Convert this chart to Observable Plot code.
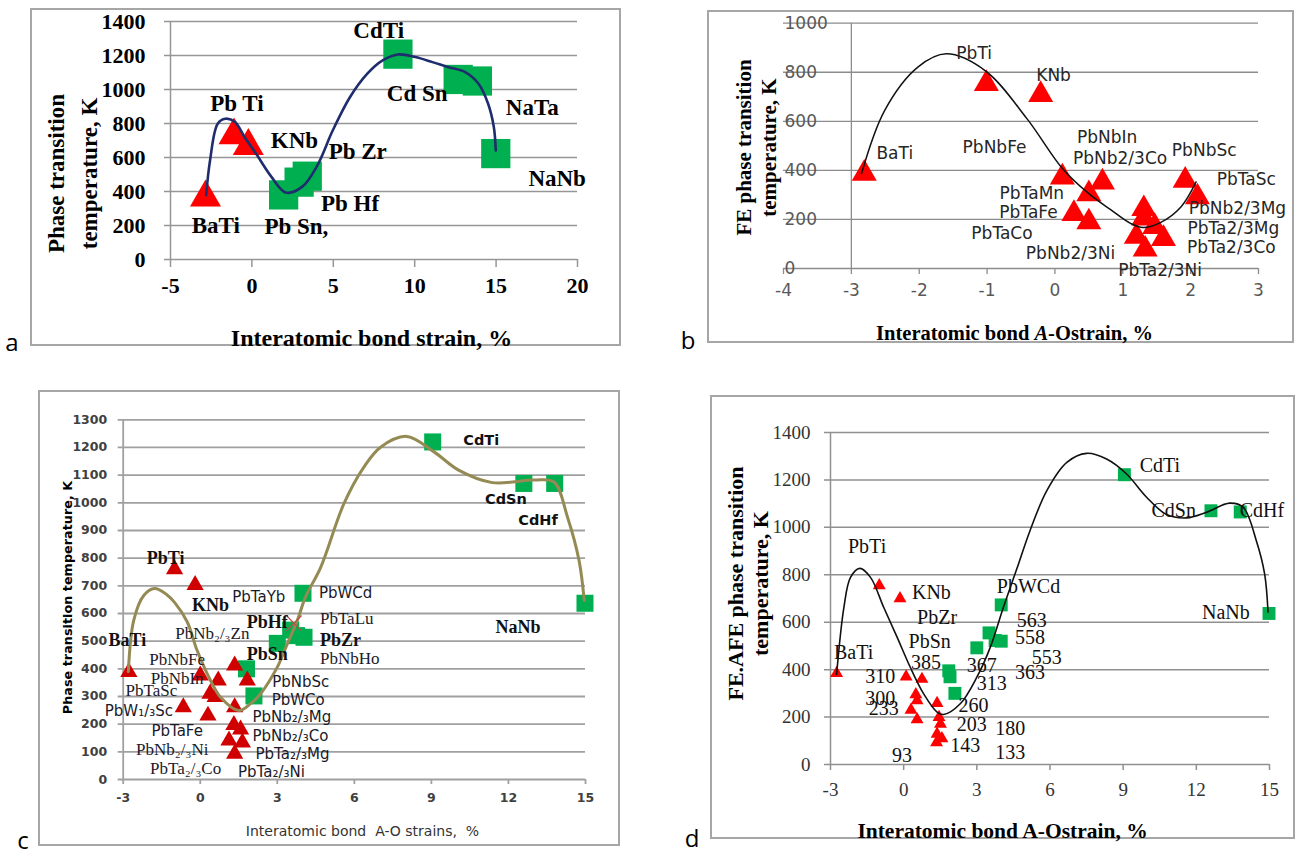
<!DOCTYPE html>
<html><head><meta charset="utf-8">
<script src="https://cdn.jsdelivr.net/npm/d3@7"></script>
<script src="https://cdn.jsdelivr.net/npm/@observablehq/plot@0.6"></script>
<style>
body{margin:0;background:#fff;width:1305px;height:856px;position:relative;overflow:hidden}
.box{position:absolute;border:2px solid #a6a6a6;box-sizing:border-box}
.letter{position:absolute;font-family:"Open Sans",sans-serif;font-size:24px;color:#000;line-height:1;transform:translate(-50%,-50%)}
.panel{position:absolute}
</style></head><body>
<script>
// ---------- Panel a ----------
const aXTicks = [-5, 0, 5, 10, 15, 20];
const aYTicks = [0, 200, 400, 600, 800, 1000, 1200, 1400];
const aTriX = [-2.85, -1.1, -0.22];
const aTriY = [365, 730, 668];
const aSqX = [1.95, 2.9, 3.4, 8.97, 12.67, 13.85, 14.98];
const aSqY = [380, 455, 490, 1208, 1059, 1050, 623];
const aCurveX = [-2.81, -2.57, -2.1, -1.63, -1.04, -0.45, 0.25, 1.2, 2.07, 3.08, 4.02, 4.97, 6.03, 7.09, 8.03, 8.97, 10.03, 11.09, 12.04, 13.1, 13.92, 14.51, 14.86, 14.98];
const aCurveY = [378, 583, 799, 828, 809, 721, 623, 486, 394, 427, 554, 760, 956, 1093, 1171, 1206, 1191, 1161, 1132, 1102, 1034, 916, 779, 642];
const aLabText = ["Pb Ti", "KNb", "BaTi", "Pb Sn,", "Pb Zr", "Pb Hf", "CdTi", "Cd Sn", "NaTa", "NaNb"];
const aLabX = [-0.92, 2.61, -2.22, 2.73, 6.5, 6.03, 7.79, 10.15, 17.22, 18.75];
const aLabY = [916, 701, 202, 192, 632, 329, 1347, 975, 893, 476];

// ---------- Panel b ----------
const bXTicks = [-4, -3, -2, -1, 0, 1, 2, 3];
const bYTicks = [0, 200, 400, 600, 800, 1000];
const bTriX = [-2.81, -1.01, -0.21, 0.11, 0.5, 0.7, 0.28, 0.5, 1.31, 1.31, 1.47, 1.2, 1.6, 1.33, 1.92, 2.1];
const bTriY = [387, 753, 708, 372, 304, 352, 223, 189, 243, 205, 170, 130, 121, 78, 359, 291];
const bCurveX = [-2.85, -2.51, -2.02, -1.6, -1.02, -0.41, 0.11, 0.5, 0.82, 1.12, 1.3, 1.56, 1.86, 2.08];
const bCurveY = [387, 644, 821, 875, 805, 610, 408, 305, 240, 183, 167, 188, 252, 353];
const bLabText = ["PbTi", "KNb", "BaTi", "PbNbFe", "PbNbIn", "PbNb2/3Co", "PbNbSc", "PbTaMn", "PbTaFe", "PbTaCo", "PbNb2/3Ni", "PbTa2/3Ni", "PbTaSc", "PbNb2/3Mg", "PbTa2/3Mg", "PbTa2/3Co"];
const bLabX = [-1.19, -0.02, -2.36, -0.89, 0.77, 0.96, 2.2, -0.34, -0.39, -0.78, 0.23, 1.55, 2.82, 2.69, 2.63, 2.6];
const bLabY = [875, 787, 468, 495, 535, 450, 482, 304, 230, 141, 60, -10, 362, 244, 163, 85];

// ---------- Panel c ----------
const cXTicks = [-3, 0, 3, 6, 9, 12, 15];
const cYTicks = [0, 100, 200, 300, 400, 500, 600, 700, 800, 900, 1000, 1100, 1200, 1300];
const cTriX = [-2.78, -1.0, -0.2, 0.0, 0.7, 0.38, 0.58, -0.66, 0.3, 1.34, 1.83, 1.34, 1.31, 1.57, 1.12, 1.64, 1.34];
const cTriY = [388, 760, 703, 376, 358, 310, 298, 261, 231, 412, 358, 261, 197, 181, 141, 134, 93];
const cSqX = [1.8, 2.09, 3.0, 3.52, 3.75, 4.04, 4.0, 9.05, 12.6, 13.8, 14.98];
const cSqY = [400, 302, 492, 540, 520, 514, 673, 1220, 1070, 1070, 637];
const cCrossX = [3.65];
const cCrossY = [565];
const cCurveX = [-2.8, -2.59, -2.2, -1.78, -1.3, -1.0, -0.51, -0.12, 0.4, 0.79, 1.5, 1.96, 2.35, 3.0, 3.39, 3.78, 4.1, 4.69, 5.59, 6.37, 7.02, 8.04, 9.09, 10.06, 11.37, 12.99, 13.77, 14.3, 14.75, 14.95];
const cCurveY = [390, 575, 665, 690, 668, 640, 570, 466, 358, 297, 249, 274, 310, 406, 490, 575, 660, 767, 996, 1129, 1201, 1240, 1185, 1118, 1073, 1082, 1075, 948, 791, 647];
const cLabText = ["PbTi", "KNb", "BaTi", "PbHf", "PbSn", "PbZr", "NaNb", "CdTi", "CdSn", "CdHf",
  "PbNb₂/₃Zn", "PbNbFe", "PbNbIn", "PbTaSc", "PbNb₂/₃Ni", "PbTa₂/₃Co", "PbTaLu", "PbNbHo",
  "PbTaYb", "PbW₁/₃Sc", "PbTaFe", "PbNbSc", "PbWCo", "PbNb₂/₃Mg", "PbNb₂/₃Co", "PbTa₂/₃Mg", "PbTa₂/₃Ni", "PbWCd"];
const cLabX = [-1.35, 0.4, -3.57, 2.61, 2.61, 4.66, 12.37, 10.24, 11.9, 13.15,
  0.47, -0.9, -0.9, -1.9, -1.09, -0.57, 4.66, 4.66,
  2.28, -2.39, -0.9, 2.8, 2.78, 2.03, 2.03, 2.15, 1.47, 4.62];
const cLabY = [798, 631, 502, 568, 454, 505, 550, 1224, 1014, 936,
  527, 433, 364, 322, 107, 39, 581, 436,
  659, 247, 175, 352, 287, 224, 157, 90, 26, 673];
const cLabAnchor = ["middle", "middle", "start", "middle", "middle", "start", "middle", "start", "middle", "middle",
  "middle", "middle", "middle", "middle", "middle", "middle", "start", "start",
  "middle", "middle", "middle", "start", "start", "start", "start", "start", "start", "start"];
const cLabFont = ["bs", "bs", "bs", "bs", "bs", "bs", "bs", "bc", "bc", "bc",
  "s", "s", "s", "s", "s", "s", "s", "s",
  "ss", "ss", "ss", "ss", "ss", "ss", "ss", "ss", "ss", "ss"];

// ---------- Panel d ----------
const dXTicks = [-3, 0, 3, 6, 9, 12, 15];
const dYTicks = [0, 200, 400, 600, 800, 1000, 1200, 1400];
const dTriX = [-2.75, -1.0, -0.15, 0.1, 0.75, 0.5, 0.55, 0.3, 0.55, 1.37, 1.45, 1.51, 1.37, 1.35, 1.57];
const dTriY = [385, 755, 700, 370, 360, 295, 270, 230, 190, 258, 199, 171, 129, 93, 110];
const dSqX = [1.85, 1.9, 2.1, 3.0, 3.5, 3.75, 4.0, 4.0, 9.05, 12.6, 13.8, 14.98];
const dSqY = [395, 370, 300, 492, 555, 523, 520, 673, 1222, 1070, 1065, 637];
const dCurveX = [-2.75, -2.45, -2.18, -1.8, -1.36, -0.82, -0.27, 0.27, 0.82, 1.37, 1.64, 2.32, 3.0, 3.55, 4.09, 4.64, 5.18, 5.87, 6.69, 7.5, 8.32, 9.14, 9.96, 10.78, 11.6, 12.42, 13.37, 13.92, 14.46, 14.8, 14.94];
const dCurveY = [380, 663, 789, 827, 789, 663, 537, 410, 298, 221, 211, 256, 368, 494, 663, 825, 986, 1155, 1274, 1312, 1288, 1225, 1127, 1054, 1040, 1064, 1102, 1085, 944, 804, 642];
const dLabText = ["PbTi", "KNb", "PbZr", "PbSn", "BaTi", "385", "310", "300", "233", "93", "260", "203", "143", "367", "313", "180", "133", "PbWCd", "563", "558", "553", "363", "CdTi", "CdSn", "CdHf", "NaNb"];
const dLabX = [-1.5, 0.34, 0.55, 0.2, -2.86, 0.3, -0.34, -0.34, -0.2, -0.07, 2.25, 2.18, 1.91, 2.59, 3.0, 3.75, 3.75, 3.82, 4.64, 4.57, 5.25, 4.57, 9.68, 10.16, 13.78, 14.19];
const dLabY = [919, 726, 621, 518, 473, 431, 371, 277, 235, 38, 249, 169, 80, 417, 340, 150, 52, 750, 607, 534, 452, 389, 1260, 1071, 1071, 642];
const dLabAnchor = ["middle", "start", "start", "start", "start", "start", "end", "end", "end", "middle", "start", "start", "start", "start", "start", "start", "start", "start", "start", "start", "start", "start", "start", "start", "start", "end"];

// ---------- helpers ----------
const SERIF = "'Liberation Serif','Times New Roman',serif";
const SANS = "'DejaVu Sans',Verdana,sans-serif";
const zip = (xs, ys) => xs.map((x, i) => ({x, y: ys[i]}));

function labelMarks(texts, xs, ys, anchors, fonts, defs) {
  const data = texts.map((t, i) => ({t, x: xs[i], y: ys[i], a: anchors[i], f: fonts[i]}));
  const marks = [];
  for (const [a, sub] of d3.groups(data, d => d.a, d => d.f)) {
    for (const [f, arr] of sub) {
      const fd = defs[f];
      marks.push(Plot.text(arr, {x: "x", y: "y", text: "t", textAnchor: a, fontFamily: fd.family, fontSize: fd.size, fontWeight: fd.weight || "normal", fill: fd.fill || "#111"}));
    }
  }
  return marks;
}

function panel(cfg) {
  const [bl, bt, br, bb] = cfg.box;
  const [x0, x1] = cfg.xPx, [yT, yB] = cfg.yPx;
  const W = br - bl, H = bb - bt;
  const at = (X, Y) => ({frameAnchor: "top-left", dx: X - x0, dy: Y - yT});
  const tf = cfg.tickFont;
  const marks = [
    Plot.ruleY(cfg.yTicks, {y: d => d, stroke: cfg.grid, strokeWidth: cfg.gridW, insetLeft: -cfg.yTickLen}),
    Plot.ruleX([cfg.axisAt], {x: d => d, y1: cfg.yDomain[0], y2: cfg.yDomain[1], stroke: cfg.grid, strokeWidth: cfg.gridW}),
    Plot.axisX({ticks: cfg.xTicks, tickSize: cfg.xTickLen, tickFormat: () => "", label: null, stroke: cfg.grid, strokeWidth: cfg.gridW}),
    ...cfg.points,
    Plot.line(cfg.curve, {x: "x", y: "y", curve: "catmull-rom", stroke: cfg.curveColor, strokeWidth: cfg.curveW}),
    ...(cfg.extra || []),
    ...cfg.labels,
    Plot.text(cfg.xTicks, {x: d => d, frameAnchor: "bottom", dy: cfg.xLabDy, text: d => String(d), fontFamily: tf.family, fontSize: tf.size, fontWeight: tf.weight || "normal", fill: tf.fill}),
    Plot.text(cfg.yTicks, {y: d => d, frameAnchor: "left", dx: cfg.yLabDx, textAnchor: cfg.yLabAnchor, text: d => String(d), fontFamily: tf.family, fontSize: tf.size, fontWeight: tf.weight || "normal", fill: tf.fill}),
    Plot.text([cfg.xTitle.text], {...at(cfg.xTitle.X, cfg.xTitle.Y), text: d => d, textAnchor: "middle", fontFamily: cfg.xTitle.family, fontSize: cfg.xTitle.size, fontWeight: cfg.xTitle.weight, fill: cfg.xTitle.fill || "#000"}),
    ...cfg.yTitle.lines.map((ln, i) => Plot.text([ln], {...at(cfg.yTitle.X[i], cfg.yTitle.Y), text: d => d, rotate: -90, textAnchor: "middle", fontFamily: cfg.yTitle.family, fontSize: cfg.yTitle.size, fontWeight: cfg.yTitle.weight, fill: cfg.yTitle.fill || "#000"}))
  ];
  const svg = Plot.plot({
    width: W, height: H,
    marginLeft: x0 - bl, marginRight: br - x1, marginTop: yT - bt, marginBottom: bb - yB,
    x: {domain: cfg.xDomain, axis: null},
    y: {domain: cfg.yDomain, axis: null},
    style: {background: "transparent", overflow: "visible"},
    marks
  });
  const wrap = document.createElement("div");
  wrap.className = "panel";
  wrap.style.left = bl + "px"; wrap.style.top = bt + "px";
  wrap.appendChild(svg);
  const box = document.createElement("div");
  box.className = "box";
  Object.assign(box.style, {left: bl + "px", top: bt + "px", width: W + "px", height: H + "px"});
  document.body.appendChild(box);
  document.body.appendChild(wrap);
  const lt = document.createElement("div");
  lt.className = "letter";
  lt.textContent = cfg.letter.t;
  lt.style.left = cfg.letter.X + "px"; lt.style.top = cfg.letter.Y + "px";
  document.body.appendChild(lt);
  return svg;
}

const RED = "#ff0000", GREEN = "#00b050";

// Panel a
panel({
  box: [30, 8, 621, 346], xPx: [170, 577], yPx: [21, 259],
  xDomain: [-5, 20], yDomain: [0, 1400], xTicks: aXTicks, yTicks: aYTicks, axisAt: -5,
  grid: "#969696", gridW: 1.5, yTickLen: 6, xTickLen: 8,
  points: [
    Plot.dot(zip(aSqX, aSqY), {x: "x", y: "y", symbol: "square", r: 16.5, fill: GREEN}),
    Plot.dot(zip(aTriX, aTriY), {x: "x", y: "y", symbol: "triangle", r: 11.5, fill: RED})
  ],
  curve: zip(aCurveX, aCurveY), curveColor: "#1f2d6e", curveW: 2.6,
  labels: labelMarks(aLabText, aLabX, aLabY, aLabText.map(() => "middle"), aLabText.map(() => "bs"), {bs: {family: SERIF, size: 23, weight: "bold", fill: "#000"}}),
  tickFont: {family: SERIF, size: 22, weight: "bold", fill: "#000"},
  xLabDy: 33, yLabDx: -25, yLabAnchor: "end",
  xTitle: {text: "Interatomic bond strain, %", X: 371, Y: 328, family: SERIF, size: 24, weight: "bold"},
  yTitle: {lines: ["Phase transition", "temperature, K"], X: [47, 80], Y: 173, family: SERIF, size: 23, weight: "bold"},
  letter: {t: "a", X: 12, Y: 342}
});

// Panel b
const bSvg = panel({
  box: [707, 10, 1294, 343], xPx: [783, 1258], yPx: [22.7, 268],
  xDomain: [-4, 3], yDomain: [0, 1000], xTicks: bXTicks, yTicks: bYTicks, axisAt: -3,
  grid: "#8c8c8c", gridW: 1.3, yTickLen: 0, xTickLen: 6,
  points: [
    Plot.dot(zip(bTriX, bTriY), {x: "x", y: "y", symbol: "triangle", r: 9.3, fill: RED})
  ],
  curve: zip(bCurveX, bCurveY), curveColor: "#111", curveW: 1.5,
  labels: labelMarks(bLabText, bLabX, bLabY, bLabText.map(() => "middle"), bLabText.map(() => "s"), {s: {family: SANS, size: 17, fill: "#262626"}}),
  tickFont: {family: SANS, size: 17, fill: "#595959"},
  xLabDy: 27, yLabDx: 1, yLabAnchor: "start",
  xTitle: {text: "Interatomic bond A-Ostrain, %", X: 1014, Y: 325, family: SERIF, size: 20.5, weight: "bold"},
  yTitle: {lines: ["FE phase transition", "temperature, K"], X: [736, 761], Y: 147, family: SERIF, size: 21, weight: "bold"},
  letter: {t: "b", X: 688, Y: 340}
});
for (const t of bSvg.querySelectorAll("text")) {
  if (t.textContent === "Interatomic bond A-Ostrain, %") t.innerHTML = 'Interatomic bond <tspan font-style="italic">A</tspan>-Ostrain, %';
}

// Panel c
panel({
  box: [38, 390, 620, 846], xPx: [122.7, 585], yPx: [419.3, 779],
  xDomain: [-3, 15], yDomain: [0, 1300], xTicks: cXTicks, yTicks: cYTicks, axisAt: -3,
  grid: "#a0a0a0", gridW: 1.8, yTickLen: 5, xTickLen: 5,
  points: [
    Plot.dot(zip(cSqX, cSqY), {x: "x", y: "y", symbol: "square", r: 9.6, fill: GREEN}),
    Plot.dot(zip(cTriX, cTriY), {x: "x", y: "y", symbol: "triangle", r: 6.4, fill: "#d00000"})
  ],
  extra: [Plot.dot(zip(cCrossX, cCrossY), {x: "x", y: "y", symbol: "times", r: 7, stroke: "#c0504d", strokeWidth: 1.2})],
  curve: zip(cCurveX, cCurveY), curveColor: "#948a54", curveW: 3,
  labels: labelMarks(cLabText, cLabX, cLabY, cLabAnchor, cLabFont, {
    bs: {family: SERIF, size: 18, weight: "bold", fill: "#111"},
    bc: {family: SANS, size: 14.5, weight: "bold", fill: "#111"},
    s: {family: SERIF, size: 17, fill: "#1a1a2a"},
    ss: {family: SANS, size: 15, fill: "#1a1a2a"}
  }),
  tickFont: {family: SANS, size: 12.5, weight: "bold", fill: "#404040"},
  xLabDy: 22, yLabDx: -16, yLabAnchor: "end",
  xTitle: {text: "Interatomic bond\u00a0\u00a0A-O strains,\u00a0\u00a0%", X: 362, Y: 826, family: SANS, size: 14, weight: "normal", fill: "#333"},
  yTitle: {lines: ["Phase transition temperature, K"], X: [62], Y: 597, family: SANS, size: 12.8, weight: "bold"},
  letter: {t: "c", X: 23, Y: 840}
});

// Panel d
panel({
  box: [710, 395, 1295, 839], xPx: [830, 1269], yPx: [432, 764],
  xDomain: [-3, 15], yDomain: [0, 1400], xTicks: dXTicks, yTicks: dYTicks, axisAt: -3,
  grid: "#909090", gridW: 1.5, yTickLen: 6, xTickLen: 6,
  points: [
    Plot.dot(zip(dSqX, dSqY), {x: "x", y: "y", symbol: "square", r: 7.3, fill: GREEN}),
    Plot.dot(zip(dTriX, dTriY), {x: "x", y: "y", symbol: "triangle", r: 4.8, fill: RED})
  ],
  curve: zip(dCurveX, dCurveY), curveColor: "#111", curveW: 1.6,
  labels: labelMarks(dLabText, dLabX, dLabY, dLabAnchor, dLabText.map(() => "s"), {s: {family: SERIF, size: 20, fill: "#111"}}),
  tickFont: {family: SERIF, size: 19, fill: "#333"},
  xLabDy: 31, yLabDx: -20, yLabAnchor: "end",
  xTitle: {text: "Interatomic bond A-Ostrain, %", X: 1002, Y: 822, family: SERIF, size: 21.5, weight: "bold"},
  yTitle: {lines: ["FE.AFE phase transition", "temperature, K"], X: [727, 752], Y: 583, family: SERIF, size: 22, weight: "bold"},
  letter: {t: "d", X: 692, Y: 838}
});
</script>
</body></html>
